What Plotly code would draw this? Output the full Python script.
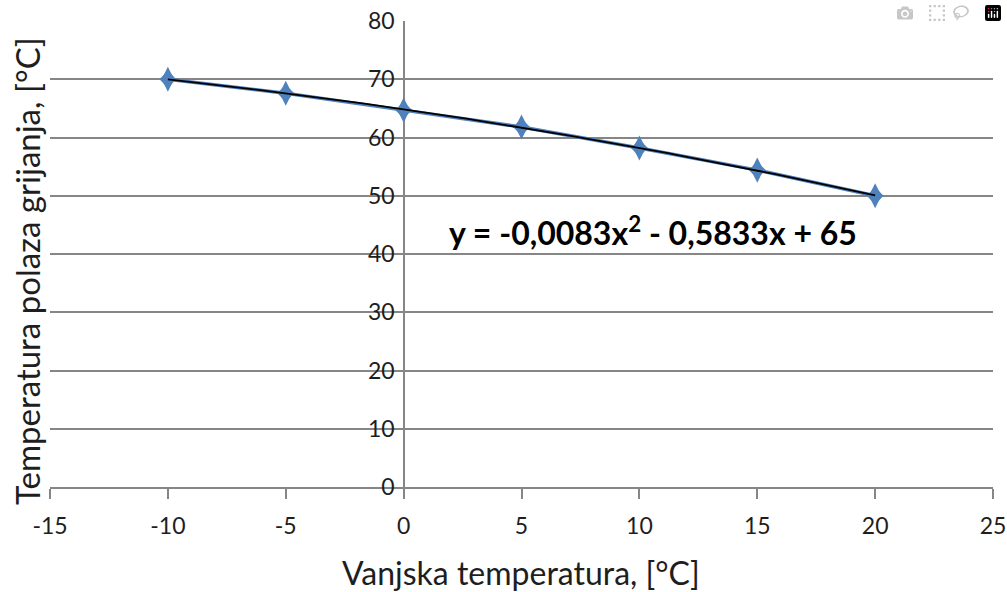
import numpy as np
import plotly.graph_objects as go

# Data
vanjska = [-10, -5, 0, 5, 10, 15, 20]
polaz = [70.0, 67.6, 64.7, 61.8, 58.2, 54.4, 50.0]
x_ticks = [-15, -10, -5, 0, 5, 10, 15, 20, 25]
x_tick_labels = ["-15", "-10", "-5", "0", "5", "10", "15", "20", "25"]
y_ticks = [0, 10, 20, 30, 40, 50, 60, 70, 80]
y_tick_labels = ["0", "10", "20", "30", "40", "50", "60", "70", "80"]
equation = "y = -0,0083x<sup>2</sup> - 0,5833x + 65"
x_title = "Vanjska temperatura, [°C]"
y_title = "Temperatura polaza grijanja, [°C]"

coef = np.polyfit(vanjska, polaz, 2)
tx = np.linspace(min(vanjska), max(vanjska), 100)
ty = np.polyval(coef, tx)

FONT = "Lato"
GRID = "#868686"
TXT = "#1e1e1e"
BLUE = "#4F81BD"

# body margin is removed by a post script, so the figure fills the window exactly
W, H = 1007, 592
L, R, T, B = 50, 14, 21, 105


def px_to_paper(px, py):
    return (px - L) / (W - L - R), (H - B - py) / (H - T - B)


fig = go.Figure()
fig.add_trace(go.Scatter(x=vanjska, y=polaz, mode="lines+markers",
                         line=dict(color=BLUE, width=3.5),
                         marker=dict(symbol="diamond", size=13, color=BLUE),
                         showlegend=False, hoverinfo="skip"))
fig.add_trace(go.Scatter(x=vanjska, y=polaz, mode="markers",
                         marker=dict(symbol="diamond-tall", size=18, color=BLUE),
                         showlegend=False, hoverinfo="skip"))
fig.add_trace(go.Scatter(x=tx, y=ty, mode="lines",
                         line=dict(color="black", width=1.8),
                         showlegend=False, hoverinfo="skip"))

fig.update_layout(
    width=W, height=H,
    margin=dict(l=L, r=R, t=T, b=B),
    paper_bgcolor="white", plot_bgcolor="white",
    font=dict(family=FONT, color=TXT, size=22),
    xaxis=dict(range=[-15, 25], tickvals=x_ticks, ticktext=x_tick_labels,
               showgrid=False, automargin=False, ticklabeloverflow="allow",
               zeroline=True, zerolinecolor=GRID, zerolinewidth=1.5,
               showline=True, linecolor=GRID, linewidth=1.5,
               ticks="outside", ticklen=10, tickcolor=GRID, tickwidth=1.5,
               ticklabelstandoff=8,
               tickfont=dict(size=23, family=FONT, color=TXT),
               fixedrange=True),
    yaxis=dict(range=[0, 80], tickvals=y_ticks, ticktext=y_tick_labels,
               showgrid=True, automargin=False, ticklabeloverflow="allow",
               gridcolor=GRID, gridwidth=1.5, zeroline=False,
               anchor="free", position=0.375, showline=False, ticks="",
               ticklabelstandoff=9,
               tickfont=dict(size=23, family=FONT, color=TXT),
               fixedrange=True),
)

ex, ey = px_to_paper(653, 231)
fig.add_annotation(x=ex, y=ey, xref="paper", yref="paper", text="<b>" + equation + "</b>",
                   showarrow=False, xanchor="center", yanchor="middle",
                   font=dict(size=32, family=FONT, color="black"))
yx, yy = px_to_paper(27, 271)
fig.add_annotation(x=yx, y=yy, xref="paper", yref="paper", text=y_title,
                   textangle=-90, showarrow=False, xanchor="center", yanchor="middle",
                   font=dict(size=33, family=FONT, color=TXT))
xx, xy = px_to_paper(521, 572)
fig.add_annotation(x=xx, y=xy, xref="paper", yref="paper", text=x_title,
                   showarrow=False, xanchor="center", yanchor="middle",
                   font=dict(size=32, family=FONT, color=TXT))

fig.write_html("out.html",
               post_script="document.body.style.margin='0px';document.body.style.overflow='hidden';")
